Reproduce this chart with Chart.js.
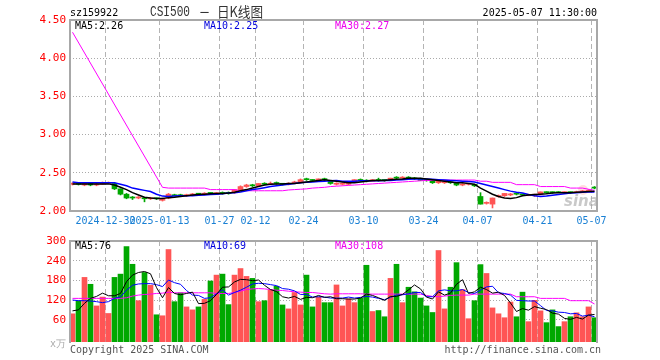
<!DOCTYPE html>
<html>
<head>
<meta charset="utf-8">
<script src="https://cdn.jsdelivr.net/npm/chart.js@4/dist/chart.umd.min.js"></script>
<style>
html, body { margin: 0; padding: 0; background: #fff; }
#wrap { position: relative; width: 660px; height: 360px; }
canvas { position: absolute; left: 0; }
#kline { top: 0; }
#vol { top: 230px; }
</style>
</head>
<body>
<div id="wrap">
  <canvas id="kline" width="660" height="232"></canvas>
  <canvas id="vol" width="660" height="130"></canvas>
</div>
<script>
// trading days shown (one bar each)
const dates = [
  '2024-12-20','2024-12-23','2024-12-24','2024-12-25','2024-12-26','2024-12-27','2024-12-30','2024-12-31',
  '2025-01-02','2025-01-03','2025-01-06','2025-01-07','2025-01-08','2025-01-09','2025-01-10','2025-01-13',
  '2025-01-14','2025-01-15','2025-01-16','2025-01-17','2025-01-20','2025-01-21','2025-01-22','2025-01-23',
  '2025-01-24','2025-01-27','2025-02-05','2025-02-06','2025-02-07','2025-02-10','2025-02-11','2025-02-12',
  '2025-02-13','2025-02-14','2025-02-17','2025-02-18','2025-02-19','2025-02-20','2025-02-21','2025-02-24',
  '2025-02-25','2025-02-26','2025-02-27','2025-02-28','2025-03-03','2025-03-04','2025-03-05','2025-03-06',
  '2025-03-07','2025-03-10','2025-03-11','2025-03-12','2025-03-13','2025-03-14','2025-03-17','2025-03-18',
  '2025-03-19','2025-03-20','2025-03-21','2025-03-24','2025-03-25','2025-03-26','2025-03-27','2025-03-28',
  '2025-03-31','2025-04-01','2025-04-02','2025-04-03','2025-04-07','2025-04-08','2025-04-09','2025-04-10',
  '2025-04-11','2025-04-14','2025-04-15','2025-04-16','2025-04-17','2025-04-18','2025-04-21','2025-04-22',
  '2025-04-23','2025-04-24','2025-04-25','2025-04-28','2025-04-29','2025-04-30','2025-05-06','2025-05-07'
];
const tickDays = ['2024-12-30','2025-01-13','2025-01-27','2025-02-12','2025-02-24','2025-03-10','2025-03-24','2025-04-07','2025-04-21','2025-05-07'];
const tickText = ['2024-12-30','2025-01-13','01-27','02-12','02-24','03-10','03-24','04-07','04-21','05-07'];
const priceTicks = [2, 2.5, 3, 3.5, 4, 4.5];
const volTicks = [60, 120, 180, 240, 300];

const open = [2.35,2.36,2.34,2.36,2.34,2.35,2.36,2.36,2.29,2.22,
  2.18,2.17,2.17,2.16,2.17,2.14,2.17,2.21,2.21,2.20,
  2.21,2.23,2.22,2.24,2.22,2.24,2.24,2.24,2.28,2.32,
  2.34,2.33,2.36,2.35,2.37,2.36,2.35,2.36,2.38,2.42,
  2.41,2.40,2.42,2.40,2.35,2.35,2.35,2.38,2.41,2.40,
  2.39,2.41,2.41,2.40,2.44,2.43,2.44,2.43,2.42,2.41,
  2.39,2.37,2.37,2.38,2.37,2.34,2.35,2.35,2.19,2.10,
  2.09,2.19,2.20,2.21,2.23,2.22,2.20,2.20,2.22,2.25,
  2.25,2.25,2.24,2.25,2.24,2.25,2.25,2.31];
const high = [2.37,2.37,2.37,2.36,2.36,2.38,2.38,2.37,2.29,2.23,
  2.19,2.19,2.18,2.18,2.17,2.17,2.23,2.22,2.22,2.22,
  2.23,2.23,2.24,2.24,2.24,2.25,2.25,2.28,2.33,2.35,
  2.35,2.36,2.37,2.38,2.38,2.36,2.37,2.39,2.42,2.43,
  2.41,2.42,2.43,2.40,2.37,2.37,2.37,2.41,2.42,2.41,
  2.41,2.43,2.41,2.43,2.45,2.45,2.45,2.44,2.43,2.41,
  2.40,2.40,2.39,2.39,2.37,2.36,2.36,2.35,2.24,2.12,
  2.17,2.21,2.23,2.23,2.23,2.22,2.22,2.22,2.25,2.25,
  2.25,2.25,2.25,2.25,2.26,2.27,2.28,2.32];
const low = [2.34,2.34,2.33,2.33,2.33,2.35,2.36,2.28,2.21,2.16,
  2.15,2.16,2.12,2.15,2.15,2.13,2.16,2.20,2.19,2.19,
  2.20,2.21,2.21,2.22,2.22,2.22,2.22,2.23,2.28,2.31,
  2.32,2.32,2.34,2.35,2.35,2.34,2.34,2.36,2.38,2.40,
  2.39,2.39,2.40,2.35,2.34,2.34,2.34,2.38,2.39,2.38,
  2.39,2.39,2.39,2.40,2.42,2.43,2.42,2.41,2.40,2.39,
  2.36,2.36,2.36,2.36,2.33,2.33,2.34,2.32,2.09,2.09,
  2.04,2.18,2.19,2.20,2.21,2.20,2.20,2.19,2.21,2.23,
  2.23,2.24,2.23,2.23,2.24,2.25,2.25,2.29];
const close = [2.36,2.35,2.36,2.34,2.35,2.37,2.37,2.29,2.22,2.17,
  2.17,2.18,2.16,2.17,2.16,2.16,2.22,2.20,2.20,2.21,
  2.22,2.22,2.23,2.23,2.24,2.23,2.23,2.28,2.32,2.34,
  2.33,2.36,2.35,2.36,2.36,2.35,2.36,2.38,2.41,2.41,
  2.40,2.42,2.41,2.36,2.36,2.36,2.37,2.41,2.40,2.39,
  2.41,2.40,2.40,2.43,2.43,2.44,2.43,2.42,2.40,2.40,
  2.37,2.39,2.38,2.37,2.34,2.35,2.36,2.33,2.09,2.11,
  2.17,2.20,2.23,2.22,2.22,2.21,2.21,2.22,2.25,2.24,
  2.24,2.24,2.25,2.24,2.25,2.26,2.27,2.30];

const ma5 = [2.355,2.355,2.355,2.355,2.355,2.355,2.355,2.34,2.31,2.28,
  2.24,2.21,2.18,2.17,2.165,2.165,2.175,2.18,2.19,2.20,
  2.21,2.215,2.22,2.225,2.23,2.23,2.235,2.245,2.265,2.28,
  2.30,2.32,2.34,2.35,2.355,2.355,2.36,2.36,2.37,2.38,
  2.39,2.40,2.41,2.40,2.39,2.38,2.37,2.37,2.38,2.39,
  2.40,2.40,2.40,2.41,2.415,2.42,2.43,2.43,2.43,2.42,
  2.41,2.40,2.39,2.38,2.37,2.37,2.36,2.35,2.30,2.26,
  2.22,2.19,2.17,2.165,2.175,2.20,2.21,2.215,2.22,2.225,
  2.235,2.24,2.24,2.24,2.245,2.25,2.255,2.26];
const ma10 = [2.38,2.37,2.37,2.37,2.37,2.37,2.37,2.37,2.35,2.33,
  2.30,2.285,2.27,2.255,2.22,2.195,2.19,2.195,2.20,2.20,
  2.20,2.205,2.21,2.215,2.22,2.225,2.235,2.24,2.25,2.265,
  2.28,2.29,2.305,2.32,2.33,2.34,2.35,2.36,2.37,2.375,
  2.38,2.385,2.39,2.395,2.40,2.39,2.39,2.39,2.395,2.395,
  2.395,2.395,2.40,2.40,2.405,2.41,2.415,2.42,2.42,2.42,
  2.415,2.41,2.405,2.40,2.395,2.39,2.385,2.38,2.36,2.34,
  2.32,2.30,2.28,2.26,2.245,2.235,2.215,2.20,2.19,2.195,
  2.205,2.215,2.225,2.235,2.24,2.245,2.25,2.25];
// MA30 falls in a straight line over the first 16 bars: only its two ends are read
const ma30 = [4.34,null,null,null,null,null,null,null,null,null,
  null,null,null,null,null,2.31,2.30,2.30,2.30,2.30,
  2.30,2.30,2.30,2.28,2.28,2.28,2.28,2.28,2.265,2.265,
  2.265,2.265,2.265,2.265,2.265,2.265,2.275,2.28,2.285,2.29,
  2.30,2.305,2.31,2.32,2.325,2.33,2.335,2.34,2.345,2.35,
  2.355,2.36,2.365,2.37,2.375,2.38,2.385,2.39,2.395,2.40,
  2.40,2.405,2.405,2.405,2.405,2.405,2.405,2.405,2.39,2.39,
  2.375,2.375,2.375,2.375,2.345,2.345,2.345,2.345,2.32,2.32,
  2.32,2.32,2.32,2.30,2.30,2.30,2.285,2.27];

// volume, x10k
const volume = [78,118,189,168,102,129,79,189,199,283,
  229,118,204,165,75,72,274,115,142,99,
  90,99,122,178,196,199,106,196,216,192,
  186,115,118,150,162,105,93,143,105,196,
  99,129,112,112,166,102,123,112,126,226,
  85,88,69,186,229,112,159,145,126,102,
  82,271,93,159,234,152,63,118,228,201,
  96,78,66,114,69,144,54,119,87,51,
  90,39,54,69,81,69,99,66];
const vma5 = [87,90,110,125,131,141,133,133,140,176,
  196,204,207,200,158,127,158,140,136,140,
  144,109,110,118,137,159,160,175,183,182,
  179,181,165,152,146,130,126,131,122,128,
  127,134,128,130,124,124,123,123,126,138,
  134,127,119,131,131,137,151,166,154,129,
  123,145,135,141,168,182,140,145,159,152,
  141,144,134,111,85,94,89,100,95,91,
  80,77,64,61,67,62,74,76];
const vma10 = [120,118,118,117,115,112,115,125,130,150,
  165,169,170,170,167,161,181,173,168,149,
  135,134,125,127,139,151,135,143,150,159,
  169,171,170,167,164,155,153,148,137,137,
  129,130,129,126,126,126,129,126,128,131,
  129,125,121,128,135,136,139,143,143,130,
  130,148,151,148,148,152,143,140,150,160,
  162,142,140,135,119,118,117,117,103,88,
  87,83,82,78,79,71,74,69];
const vma30 = [125,125,125,125,125,125,125,125,125,127,
  132,135,137,138,140,141,144,142,142,142,
  142,142,142,142,140,140,140,143,147,152,
  154,155,154,152,150,149,147,145,144,143,
  143,141,139,138,139,139,139,139,139,138,
  138,138,138,138,138,138,138,138,138,134,
  131,130,132,134,135,135,135,138,138,138,
  138,138,138,138,130,130,130,130,125,125,
  125,125,125,118,118,118,118,108];

const UP = '#ff5555';
const DOWN = '#00a800';
const barColors = close.map((c, i) => c >= open[i] ? UP : DOWN);

// date gridlines sit on the left edge of each bar slot
const tickPos = tickDays.map(d => dates.indexOf(d) - 0.5);
const tickLabel = {};
tickPos.forEach((p, i) => { tickLabel[p] = tickText[i]; });

const pts = arr => arr.map((y, i) => ({ x: i, y: y }));
const last = arr => arr[arr.length - 1];

Chart.defaults.font.family = '"DejaVu Sans Mono", monospace';
Chart.defaults.font.size = 10;
Chart.defaults.animation = false;

function xAxis(showLabels, h) {
  return {
    type: 'linear',
    min: -5 / 12,
    max: 87 + 5 / 12,
    offset: false,
    afterBuildTicks: s => { s.ticks = tickPos.map(v => ({ value: v })); },
    afterFit: s => { s.height = h; },
    grid: { color: '#b4b4b4', drawTicks: false, offset: false },
    border: { display: false, dash: [5, 3] },
    ticks: {
      display: showLabels, autoSkip: false, maxRotation: 0, padding: 4,
      color: '#1a80d4', font: { size: 10 },
      callback: v => tickLabel[v] || ''
    }
  };
}

function yAxis(min, max, ticks, fmt, color) {
  return {
    min: min, max: max,
    afterBuildTicks: s => { s.ticks = ticks.map(v => ({ value: v })); },
    afterFit: s => { s.width = 70; },
    grid: { color: '#aaa', drawTicks: false },
    border: { display: false, dash: [1, 2] },
    ticks: { padding: 4, color: color, font: { size: 11 }, callback: fmt }
  };
}

function txt(ctx, s, x, y, color, align, font, maxW) {
  ctx.font = font || '10px "DejaVu Sans Mono"';
  ctx.fillStyle = color;
  ctx.textAlign = align || 'left';
  ctx.textBaseline = 'middle';
  if (maxW) ctx.fillText(s, x, y, maxW);
  else ctx.fillText(s, x, y);
}

const klineDecor = {
  id: 'klineDecor',
  beforeDatasetsDraw(chart) {
    const ctx = chart.ctx;
    ctx.save();
    ctx.fillStyle = 'rgba(255,160,160,0.35)';
    ctx.beginPath();
    ctx.arc(583, 190, 5, 0, Math.PI * 2);
    ctx.fill();
    txt(ctx, 'sina', 564, 202, 'rgba(165,165,165,0.6)', 'left', 'italic bold 15px "DejaVu Sans"');
    ctx.restore();
  },
  afterDraw(chart) {
    const ctx = chart.ctx;
    ctx.save();
    ctx.strokeStyle = '#a8a8a8';
    ctx.lineWidth = 2;
    ctx.strokeRect(70, 20, 527, 191);
    txt(ctx, 'sz159922', 70, 13, '#000');
    txt(ctx, 'CSI500', 150, 12, '#333', 'left', '14px "Liberation Mono"', 40);
    txt(ctx, '一', 200, 12, '#333', 'left', '13px "Noto Sans CJK SC"', 9);
    txt(ctx, '日K线图', 217, 12, '#333', 'left', '14px "Noto Sans CJK SC"', 46);
    txt(ctx, '2025-05-07 11:30:00', 597, 13, '#000', 'right');
    txt(ctx, 'MA5:' + last(ma5).toFixed(2), 75, 26, '#000');
    txt(ctx, 'MA10:' + last(ma10).toFixed(2), 204, 26, '#0000dd');
    txt(ctx, 'MA30:' + last(ma30).toFixed(2), 335, 26, '#ee00ee');
    ctx.restore();
  }
};

const volDecor = {
  id: 'volDecor',
  afterDraw(chart) {
    const ctx = chart.ctx;
    ctx.save();
    ctx.strokeStyle = '#a8a8a8';
    ctx.lineWidth = 2;
    ctx.beginPath();
    ctx.moveTo(70, 113); ctx.lineTo(70, 11); ctx.lineTo(597, 11); ctx.lineTo(597, 113);
    ctx.stroke();
    txt(ctx, 'MA5:' + last(vma5), 75, 16, '#000');
    txt(ctx, 'MA10:' + last(vma10), 204, 16, '#0000dd');
    txt(ctx, 'MA30:' + last(vma30), 335, 16, '#ee00ee');
    txt(ctx, 'x万', 66, 114, '#aaa', 'right');
    txt(ctx, 'Copyright 2025 SINA.COM', 70, 120, '#555');
    txt(ctx, 'http://finance.sina.com.cn', 601, 120, '#555', 'right');
    ctx.restore();
  }
};

const line = (data, color, w, order) => ({
  type: 'line', data: pts(data), borderColor: color, borderWidth: w,
  pointRadius: 0, tension: 0, spanGaps: true, order: order
});

new Chart(document.getElementById('kline'), {
  type: 'bar',
  data: {
    datasets: [
      line(ma5, '#000', 1.5, 1),
      line(ma10, '#0000ff', 1.5, 2),
      line(ma30, '#ff00ff', 1, 3),
      {
        data: close.map((c, i) => ({ x: i, y: [open[i], c] })),
        backgroundColor: barColors, barThickness: 5, minBarLength: 1, grouped: false, order: 4
      },
      {
        data: high.map((h, i) => ({ x: i, y: [low[i], h] })),
        backgroundColor: barColors, barThickness: 1, minBarLength: 1, grouped: false, order: 5
      }
    ]
  },
  options: {
    responsive: false,
    layout: { padding: { left: 0, right: 63, top: 20, bottom: 0 } },
    plugins: { legend: { display: false }, tooltip: { enabled: false } },
    scales: {
      x: xAxis(true, 21),
      y: yAxis(2, 4.5, priceTicks, v => v.toFixed(2), '#ff0000')
    }
  },
  plugins: [klineDecor]
});

new Chart(document.getElementById('vol'), {
  type: 'bar',
  data: {
    datasets: [
      line(vma5, '#000', 1, 1),
      line(vma10, '#0000ff', 1, 2),
      line(vma30, '#ff00ff', 1, 3),
      {
        data: pts(volume), base: -8,
        backgroundColor: barColors, barThickness: 5, grouped: false, order: 4
      }
    ]
  },
  options: {
    responsive: false,
    layout: { padding: { left: 0, right: 63, top: 11, bottom: 0 } },
    plugins: { legend: { display: false }, tooltip: { enabled: false } },
    scales: {
      x: xAxis(false, 18),
      y: yAxis(-8, 300, volTicks, v => String(v), '#ff0000')
    }
  },
  plugins: [volDecor]
});
</script>
</body>
</html>
